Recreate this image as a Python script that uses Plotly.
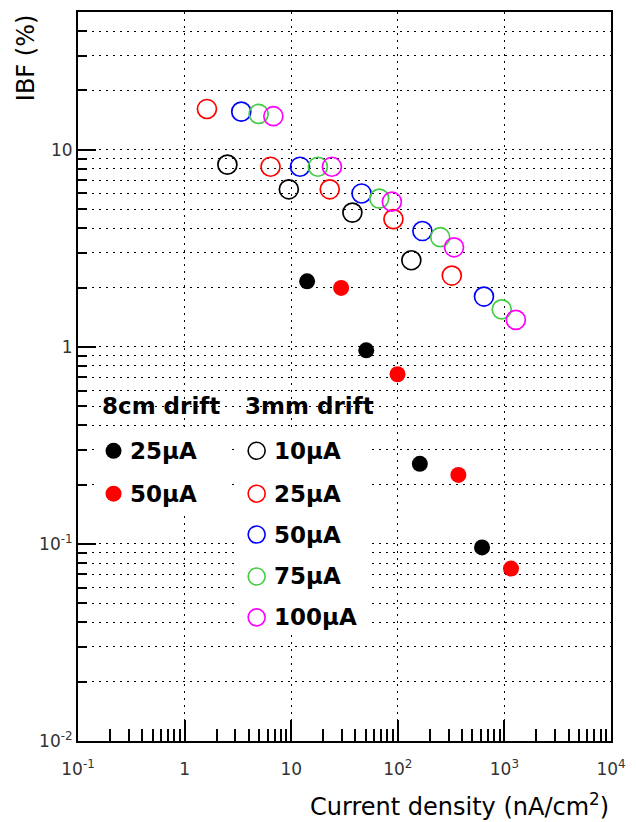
import numpy as np
import plotly.graph_objects as go

# ---- IBF vs current density -------------------------------------------
# 3 mm drift gap, open markers (x in nA/cm^2, y in %)
open_10uA_x = [2.52, 9.5, 37.5, 134]
open_10uA_y = [8.4, 6.3, 4.8, 2.75]
open_25uA_x = [1.62, 6.4, 23.0, 91.0, 321]
open_25uA_y = [16.1, 8.2, 6.3, 4.45, 2.3]
open_50uA_x = [3.4, 12.1, 45.7, 170, 643]
open_50uA_y = [15.6, 8.2, 6.0, 3.87, 1.80]
open_75uA_x = [4.95, 17.8, 67.0, 250, 944]
open_75uA_y = [15.2, 8.2, 5.65, 3.6, 1.55]
open_100uA_x = [6.8, 24.1, 88.0, 337, 1280]
open_100uA_y = [14.8, 8.2, 5.45, 3.2, 1.37]

# 8 cm drift gap, filled markers
fill_25uA_x = [14.1, 50.6, 161, 617]
fill_25uA_y = [2.15, 0.96, 0.255, 0.096]
fill_50uA_x = [29.4, 99.4, 370, 1153]
fill_50uA_y = [1.99, 0.726, 0.224, 0.075]

x_tick_vals = [0.1, 1, 10, 100, 1000, 10000]
x_tick_text = ["10<sup>-1</sup>", "1", "10", "10<sup>2</sup>", "10<sup>3</sup>", "10<sup>4</sup>"]
y_tick_vals = [0.01, 0.1, 1, 10]
y_tick_text = ["10<sup>-2</sup>", "10<sup>-1</sup>", "1", "10"]

legend_left_title = "8cm drift"
legend_left_labels = ["25μA", "50μA"]
legend_right_title = "3mm drift"
legend_right_labels = ["10μA", "25μA", "50μA", "75μA", "100μA"]

BLACK, RED, BLUE, GREEN, MAGENTA = "#000000", "#ff0000", "#0000ff", "#44cc44", "#ff00ff"
FONT = "DejaVu Sans"

W, H = 636, 822
ML, MR, MT, MB = 78, 18, 10, 81
PW, PH = W - ML - MR, H - MT - MB


def px_x(p):
    return (p - ML) / PW


def px_y(p):
    return (H - MB - p) / PH


fig = go.Figure()

open_series = [
    (open_10uA_x, open_10uA_y, BLACK),
    (open_25uA_x, open_25uA_y, RED),
    (open_50uA_x, open_50uA_y, BLUE),
    (open_75uA_x, open_75uA_y, GREEN),
    (open_100uA_x, open_100uA_y, MAGENTA),
]
filled_series = [
    (fill_25uA_x, fill_25uA_y, BLACK),
    (fill_50uA_x, fill_50uA_y, RED),
]

for xs, ys, c in filled_series:
    fig.add_trace(go.Scatter(
        x=xs, y=ys, mode="markers", showlegend=False,
        marker=dict(symbol="circle", size=16, color=c, line=dict(width=0)),
    ))
for xs, ys, c in open_series:
    fig.add_trace(go.Scatter(
        x=xs, y=ys, mode="markers", showlegend=False,
        marker=dict(symbol="circle-open", size=19, color=c, line=dict(width=1.7, color=c)),
    ))

# minor tick positions (2..9 in each decade)
x_minor = [m * 10.0 ** d for d in range(-1, 4) for m in range(2, 10)]
y_minor = [m * 10.0 ** d for d in range(-2, 1) for m in range(2, 10)] + [20, 30, 40]

DOT = "2px,5px"

fig.update_xaxes(
    type="log", range=[-1, 4],
    showline=True, linecolor="black", linewidth=2, mirror=True,
    ticks="inside", ticklen=21, tickwidth=1.5, tickcolor="black",
    tickvals=x_tick_vals, ticktext=x_tick_text,
    tickfont=dict(family=FONT, size=17, color="#333333"),
    ticklabelstandoff=12,
    showgrid=True, gridcolor="black", gridwidth=1, griddash=DOT,
    minor=dict(tickvals=x_minor, ticks="inside", ticklen=12, tickwidth=1.5,
               tickcolor="black", showgrid=False),
    zeroline=False,
)
fig.update_yaxes(
    type="log", range=[-2, np.log10(50)],
    showline=True, linecolor="black", linewidth=2, mirror=True,
    ticks="inside", ticklen=18, tickwidth=1.5, tickcolor="black",
    tickvals=y_tick_vals, ticktext=y_tick_text,
    tickfont=dict(family=FONT, size=17, color="#333333"),
    showgrid=True, gridcolor="black", gridwidth=1, griddash=DOT,
    minor=dict(tickvals=y_minor, ticks="inside", ticklen=9, tickwidth=1.5,
               tickcolor="black", showgrid=True, gridcolor="black",
               gridwidth=1, griddash=DOT),
    zeroline=False,
)

shapes = []
annotations = []

# white legend panels
shapes.append(dict(type="rect", xref="paper", yref="paper", layer="above",
                   x0=px_x(97), x1=px_x(231), y0=px_y(512), y1=px_y(431),
                   fillcolor="white", line=dict(width=0)))
shapes.append(dict(type="rect", xref="paper", yref="paper", layer="above",
                   x0=px_x(241), x1=px_x(374), y0=px_y(633), y1=px_y(431),
                   fillcolor="white", line=dict(width=0)))

row_y = [450, 493, 534, 576, 617]
left_colors = [BLACK, RED]
right_colors = [BLACK, RED, BLUE, GREEN, MAGENTA]

annotations.append(dict(text="<b>%s</b>" % legend_left_title, xref="paper", yref="paper",
                        x=px_x(100), y=px_y(405), xanchor="left", yanchor="middle",
                        showarrow=False, font=dict(family=FONT, size=23, color="black")))
annotations.append(dict(text="<b>%s</b>" % legend_right_title, xref="paper", yref="paper",
                        x=px_x(245), y=px_y(405), xanchor="left", yanchor="middle",
                        showarrow=False, font=dict(family=FONT, size=23, color="black")))

for lab, c, ry in zip(legend_left_labels, left_colors, row_y):
    cx, cy = px_x(114), px_y(ry)
    shapes.append(dict(type="circle", xref="paper", yref="paper", layer="above",
                       xsizemode="pixel", ysizemode="pixel", xanchor=cx, yanchor=cy,
                       x0=-8, x1=8, y0=-8, y1=8, fillcolor=c, line=dict(width=0)))
    annotations.append(dict(text="<b>%s</b>" % lab, xref="paper", yref="paper",
                            x=px_x(129), y=cy, xanchor="left", yanchor="middle",
                            showarrow=False, font=dict(family=FONT, size=23, color="black")))

for lab, c, ry in zip(legend_right_labels, right_colors, row_y):
    cx, cy = px_x(259), px_y(ry)
    shapes.append(dict(type="circle", xref="paper", yref="paper", layer="above",
                       xsizemode="pixel", ysizemode="pixel", xanchor=cx, yanchor=cy,
                       x0=-8.5, x1=8.5, y0=-8.5, y1=8.5, fillcolor="rgba(0,0,0,0)",
                       line=dict(width=1.6, color=c)))
    annotations.append(dict(text="<b>%s</b>" % lab, xref="paper", yref="paper",
                            x=px_x(275), y=cy, xanchor="left", yanchor="middle",
                            showarrow=False, font=dict(family=FONT, size=23, color="black")))

# axis titles, ROOT style (aligned to the far end of each axis)
annotations.append(dict(text="Current density (nA/cm<sup>2</sup>)", xref="paper", yref="paper",
                        x=1.0, y=px_y(805), xanchor="right", yanchor="middle",
                        showarrow=False, font=dict(family=FONT, size=24, color="black")))
annotations.append(dict(text="IBF (%)", xref="paper", yref="paper", textangle=-90,
                        x=px_x(25), y=1.0, xanchor="center", yanchor="top",
                        showarrow=False, font=dict(family=FONT, size=24, color="black")))

fig.update_layout(
    width=W, height=H,
    margin=dict(l=ML, r=MR, t=MT, b=MB),
    paper_bgcolor="white", plot_bgcolor="white",
    shapes=shapes, annotations=annotations,
    showlegend=False,
)

fig.write_html("out.html")
